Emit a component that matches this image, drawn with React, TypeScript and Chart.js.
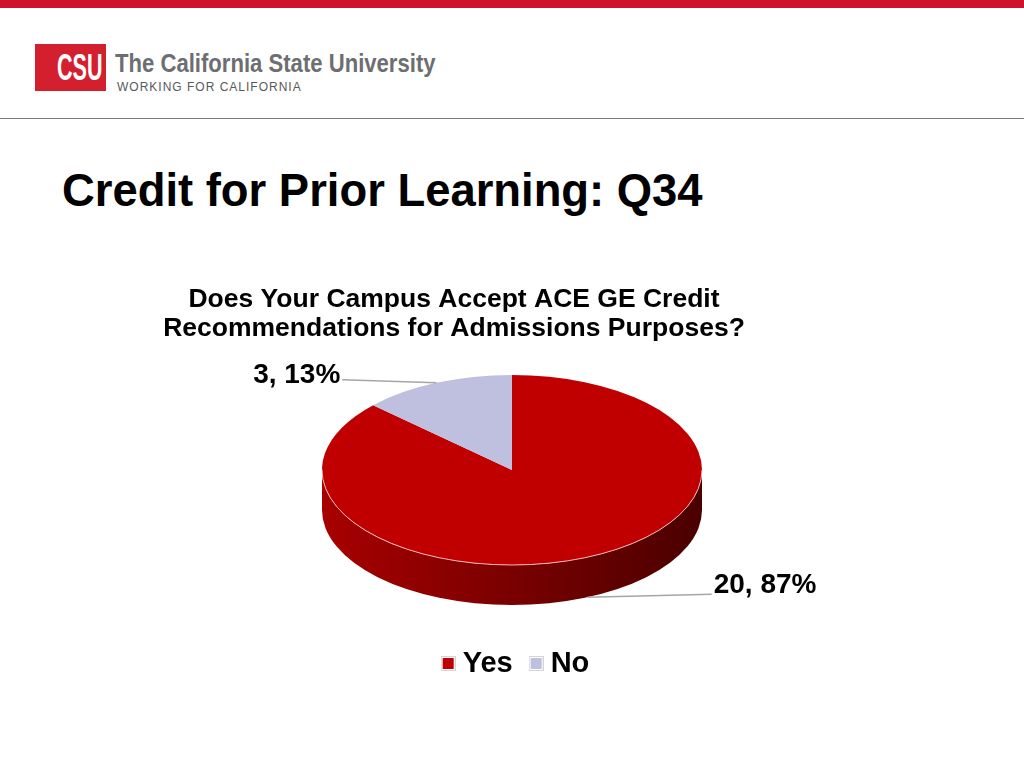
import React, { useEffect, useRef } from "react";
import { Chart, registerables } from "chart.js";

Chart.register(...registerables);

// ---- data ----
const categories = ["Yes", "No"];
const counts = [20, 3];
const percents = [87, 13];
const chartTitle = [
  "Does Your Campus Accept ACE GE Credit",
  "Recommendations for Admissions Purposes?",
];
const slideTitle = "Credit for Prior Learning: Q34";

// ---- style ----
const FONT = "'Liberation Sans', Arial, Helvetica, sans-serif";
const sliceColors = ["#c00000", "#bfbfdf"];
const sideStops: Record<number, string[]> = {
  0: ["#a80000", "#7a0000", "#4a0000"],
  1: ["#9a9ab8", "#7d7d9a", "#5f5f78"],
};
const SQUASH = 0.5;
const DEPTH = 40;
const PIE_CENTER_X = 512; // canvas coords
const PIE_CENTER_Y = 200; // canvas coords
const LABEL_DX = [126, -96];

function legendSwatch(color: string): HTMLCanvasElement {
  const c = document.createElement("canvas");
  c.width = 15;
  c.height = 15;
  const g = c.getContext("2d")!;
  g.fillStyle = "#ffffff";
  g.fillRect(0, 0, 15, 15);
  g.strokeStyle = "#d4d4d4";
  g.lineWidth = 1;
  g.strokeRect(0.5, 0.5, 14, 14);
  g.fillStyle = color;
  g.fillRect(2, 2, 11, 11);
  return c;
}

const pie3d = {
  id: "pie3d",
  beforeDatasetsDraw(chart: any) {
    const ctx: CanvasRenderingContext2D = chart.ctx;
    const arcs = chart.getDatasetMeta(0).data as any[];
    if (!arcs.length) return;
    const p = arcs[0].getProps(["x", "y", "outerRadius"], true);
    const cx = PIE_CENTER_X;
    const cy = PIE_CENTER_Y;
    const rx = p.outerRadius;
    const ry = p.outerRadius * SQUASH;
    ctx.save();
    arcs.forEach((arc, i) => {
      const a = arc.getProps(["startAngle", "endAngle"], true);
      for (const k of [-2 * Math.PI, 0, 2 * Math.PI]) {
        const s = Math.max(a.startAngle + k, 0);
        const e = Math.min(a.endAngle + k, Math.PI);
        if (e <= s) continue;
        const g = ctx.createLinearGradient(cx - rx, 0, cx + rx, 0);
        const st = sideStops[i] || sideStops[0];
        g.addColorStop(0, st[0]);
        g.addColorStop(0.5, st[1]);
        g.addColorStop(1, st[2]);
        ctx.beginPath();
        ctx.ellipse(cx, cy, rx, ry, 0, s, e, false);
        ctx.lineTo(cx + rx * Math.cos(e), cy + ry * Math.sin(e) + DEPTH);
        ctx.ellipse(cx, cy + DEPTH, rx, ry, 0, e, s, true);
        ctx.closePath();
        ctx.fillStyle = g;
        ctx.fill();
      }
    });
    ctx.restore();
    ctx.save();
    ctx.translate(cx, cy);
    ctx.scale(1, SQUASH);
    ctx.translate(-p.x, -p.y);
  },
  afterDatasetsDraw(chart: any) {
    const ctx: CanvasRenderingContext2D = chart.ctx;
    ctx.restore();
    const arcs = chart.getDatasetMeta(0).data as any[];
    if (!arcs.length) return;
    const p = arcs[0].getProps(["x", "y", "outerRadius"], true);
    const cx = PIE_CENTER_X;
    const cy = PIE_CENTER_Y;
    const rx = p.outerRadius;
    const ry = p.outerRadius * SQUASH;
    // rim highlight
    ctx.save();
    ctx.beginPath();
    ctx.ellipse(cx, cy, rx, ry, 0, 0, Math.PI, false);
    ctx.strokeStyle = "rgba(255,200,200,0.9)";
    ctx.lineWidth = 1;
    ctx.stroke();
    ctx.restore();
    // labels
    arcs.forEach((arc, i) => {
      const a = arc.getProps(["startAngle", "endAngle"], true);
      const mid = (a.startAngle + a.endAngle) / 2;
      const s = Math.sin(mid);
      const ax = cx + rx * Math.cos(mid);
      const ay = cy + ry * s + (s > 0 ? DEPTH : 0);
      const right = Math.cos(mid) >= 0;
      const tx = ax + LABEL_DX[i];
      const ly = ay - 3;
      ctx.save();
      ctx.beginPath();
      ctx.moveTo(tx + (right ? -2 : 2), ly);
      ctx.lineTo(ax, ay);
      ctx.strokeStyle = "#a6a6a6";
      ctx.lineWidth = 1.5;
      ctx.stroke();
      ctx.font = `bold 28px ${FONT}`;
      ctx.fillStyle = "#000";
      ctx.textAlign = right ? "left" : "right";
      ctx.textBaseline = "alphabetic";
      ctx.fillText(`${counts[i]}, ${percents[i]}%`, tx, right ? ay - 4 : ay);
      ctx.restore();
    });
  },
};

function PieChart() {
  const ref = useRef<HTMLCanvasElement | null>(null);
  useEffect(() => {
    if (!ref.current) return;
    const swatches = sliceColors.map(legendSwatch);
    const chart = new Chart(ref.current, {
      type: "pie",
      data: {
        labels: categories,
        datasets: [
          {
            data: counts,
            backgroundColor: sliceColors,
            borderWidth: 0,
            radius: 190,
            clip: false as any,
          } as any,
        ],
      },
      options: {
        animation: false,
        responsive: false,
        events: [],
        layout: { padding: { bottom: 12, left: 13.5 } },
        scales: {
          spacer: {
            type: "linear",
            axis: "y",
            position: "right",
            display: true,
            grid: { display: false },
            border: { display: false },
            ticks: { display: false },
            afterFit: (s: any) => {
              s.width = 129.5;
            },
          } as any,
        },
        plugins: {
          tooltip: { enabled: false },
          title: {
            display: true,
            fullSize: false,
            text: chartTitle,
            color: "#000",
            font: { family: FONT, size: 26.5, weight: "bold", lineHeight: 1.1 },
            padding: { top: 15, bottom: 10 },
          },
          legend: {
            display: true,
            fullSize: true,
            position: "bottom",
            labels: {
              color: "#000",
              font: { family: FONT, size: 29, weight: "bold" },
              usePointStyle: true,
              boxWidth: 0.01,
              boxHeight: 15,
              padding: 23.5,
              generateLabels: () =>
                categories.map((c, i) => ({
                  text: c,
                  fillStyle: sliceColors[i],
                  strokeStyle: "#d4d4d4",
                  lineWidth: 1,
                  pointStyle: swatches[i],
                  hidden: false,
                  index: i,
                  fontColor: "#000",
                })) as any,
            },
          },
        },
      },
      plugins: [pie3d],
    });
    return () => chart.destroy();
  }, []);
  return (
    <canvas
      ref={ref}
      width={1024}
      height={430}
      style={{ position: "absolute", left: 0, top: 270, width: 1024, height: 430 }}
    />
  );
}

export default function App() {
  return (
    <div
      style={{
        position: "absolute",
        left: 0,
        top: 0,
        width: 1024,
        height: 768,
        background: "#fff",
        overflow: "hidden",
        fontFamily: FONT,
      }}
    >
      <div style={{ position: "absolute", left: 0, top: 0, width: 1024, height: 8, background: "#d0112b" }} />
      <div
        style={{
          position: "absolute",
          left: 35,
          top: 44,
          width: 71,
          height: 47,
          background: "#d41f2f",
          overflow: "hidden",
        }}
      >
        <div
          style={{
            position: "absolute",
            left: 22,
            top: 4,
            fontSize: 36,
            lineHeight: "40px",
            fontWeight: "bold",
            color: "#fff",
            transform: "scaleX(0.6)",
            transformOrigin: "left top",
            whiteSpace: "nowrap",
          }}
        >
          CSU
        </div>
      </div>
      <div
        style={{
          position: "absolute",
          left: 115,
          top: 48,
          fontSize: 26,
          lineHeight: "30px",
          fontWeight: "bold",
          color: "#6d6e71",
          transform: "scaleX(0.85)",
          transformOrigin: "left top",
          whiteSpace: "nowrap",
        }}
      >
        The California State University
      </div>
      <div
        style={{
          position: "absolute",
          left: 117,
          top: 80,
          fontSize: 12,
          lineHeight: "14px",
          letterSpacing: 1,
          color: "#58595b",
          whiteSpace: "nowrap",
        }}
      >
        WORKING FOR CALIFORNIA
      </div>
      <div style={{ position: "absolute", left: 0, top: 118, width: 1024, height: 1, background: "#7a7a7a" }} />
      <div
        style={{
          position: "absolute",
          left: 62,
          top: 168,
          fontSize: 45.4,
          lineHeight: "45px",
          fontWeight: "bold",
          color: "#000",
          whiteSpace: "nowrap",
        }}
      >
        {slideTitle}
      </div>
      <PieChart />
    </div>
  );
}
